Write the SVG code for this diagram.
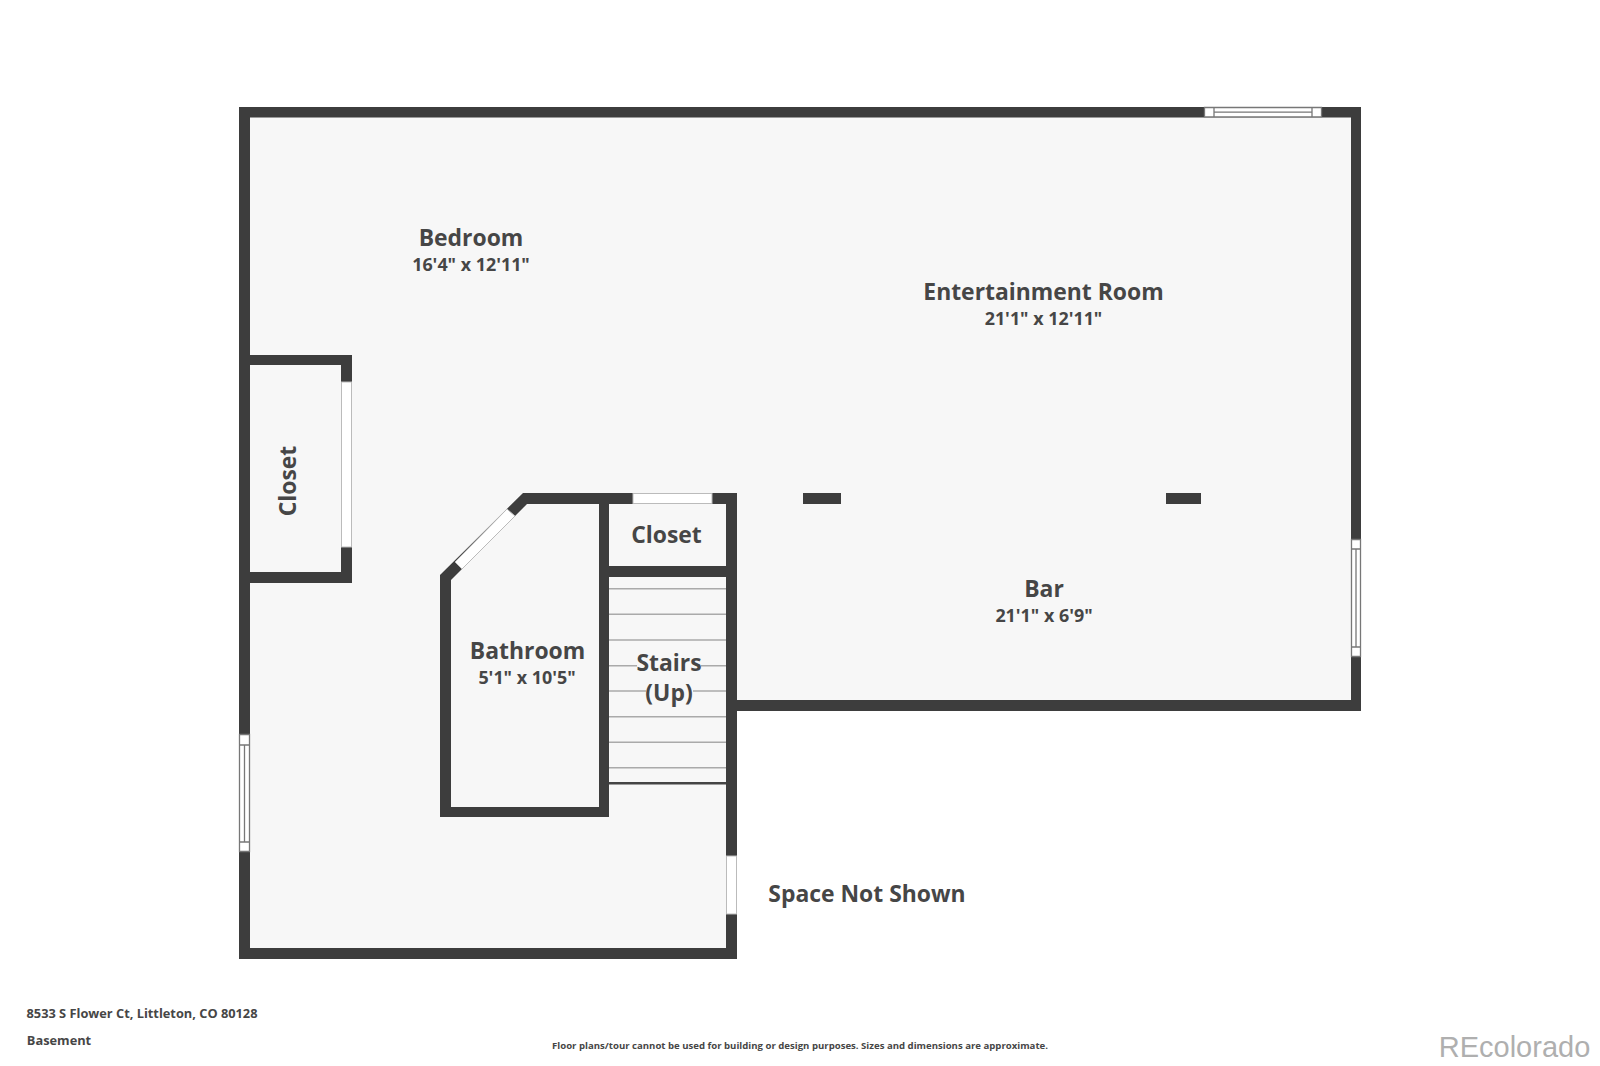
<svg xmlns="http://www.w3.org/2000/svg" width="1600" height="1066" viewBox="0 0 1600 1066">
<style>
.w{fill:#3d3d3d}
.t{font-family:"Open Sans","Liberation Sans",sans-serif;fill:#464646;font-weight:700;text-anchor:middle}
.n{font-size:22.900px}
.d{font-size:17.900px}
.o{fill:#fff;stroke:#bbb;stroke-width:1}
.f{fill:none;stroke:#777;stroke-width:1.3}
.s{stroke:#aaa;stroke-width:1.5}
</style>
<rect width="1600" height="1066" fill="#fff"/>
<path id="floor" d="M239 107H1361V711H737V959H239Z" fill="#f7f7f7"/>
<g id="stairs">
<path class="s" d="M609 588.700H726M609 614.300H726M609 640H726M609 665.700H637M701 665.700H726M609 691H646M693 691H726M609 716.700H726M609 742.300H726M609 767.700H726"/>
<rect x="609" y="782" width="117" height="2.500" fill="#444"/>
</g>
<g id="walls">
<path class="w" fill-rule="evenodd" d="M239 107H1361V711H737V959H239ZM250 117.500V948H726V700H1351V117.500Z"/>
<rect class="w" x="726" y="493" width="11" height="207"/>
<rect class="w" x="239" y="355" width="113" height="10"/>
<rect class="w" x="341" y="355" width="11" height="27"/>
<rect class="w" x="341" y="547" width="11" height="36"/>
<rect class="w" x="239" y="572" width="113" height="11"/>
<path class="w" d="M440 817V575L523 493H737V504H527L451 580V807H599V504H609V817Z"/>
<rect class="w" x="599" y="566" width="127" height="11"/>
<rect class="w" x="803" y="493" width="38" height="11"/>
<rect class="w" x="1166" y="493" width="35" height="11"/>
</g>
<g id="openings">
<rect class="o" x="633" y="493.500" width="79" height="10"/>
<rect class="o" x="341.500" y="382" width="10" height="165"/>
<rect class="o" x="726.500" y="856" width="10" height="58"/>
<path class="o" d="M455 562L507 509L515 516L462 569Z"/>
<g id="window-top">
<rect x="1204" y="107" width="118" height="10.500" fill="#fff"/>
<path class="f" d="M1204.500 107.500H1321.500V117H1204.500ZM1214 107.500V117M1312 107.500V117M1214 112.200H1312"/>
</g>
<g id="window-right">
<rect x="1351" y="539" width="10" height="118" fill="#fff"/>
<path class="f" d="M1351.500 539.500H1360.500V656.500H1351.500ZM1351.500 549H1360.500M1351.500 647H1360.500M1356 549V647"/>
</g>
<g id="window-left">
<rect x="239" y="734" width="11" height="118" fill="#fff"/>
<path class="f" d="M239.500 734.500H249.500V851.500H239.500ZM239.500 745H249.500M239.500 842H249.500M244.500 745V842"/>
</g>
</g>
<g id="labels">
<text class="t n" x="471" y="245.500">Bedroom</text>
<text class="t d" x="471" y="270.500">16'4" x 12'11"</text>
<text class="t n" x="1043.500" y="299.500">Entertainment Room</text>
<text class="t d" x="1043.500" y="324.500">21'1" x 12'11"</text>
<text class="t n" x="1044" y="596.500">Bar</text>
<text class="t d" x="1044" y="621.500">21'1" x 6'9"</text>
<text class="t n" x="527.500" y="658.500">Bathroom</text>
<text class="t d" x="527" y="683.500">5'1" x 10'5"</text>
<text class="t n" x="666.500" y="542.500">Closet</text>
<text class="t n" x="669" y="670.500">Stairs</text>
<text class="t n" x="669" y="700.500">(Up)</text>
<text class="t n" transform="translate(296 481) rotate(-90)">Closet</text>
<text class="t n" x="867" y="901.500">Space Not Shown</text>
<text class="t" font-size="12.800" x="142" y="1018">8533 S Flower Ct, Littleton, CO 80128</text>
<text class="t" font-size="12.800" x="59" y="1044.500">Basement</text>
<text class="t" font-size="9.600" x="800" y="1048.500">Floor plans/tour cannot be used for building or design purposes. Sizes and dimensions are approximate.</text>
<text x="1514.500" y="1057" font-family="'Liberation Sans',Arial,sans-serif" font-size="29" fill="#afafaf" text-anchor="middle">REcolorado</text>
</g>
</svg>
